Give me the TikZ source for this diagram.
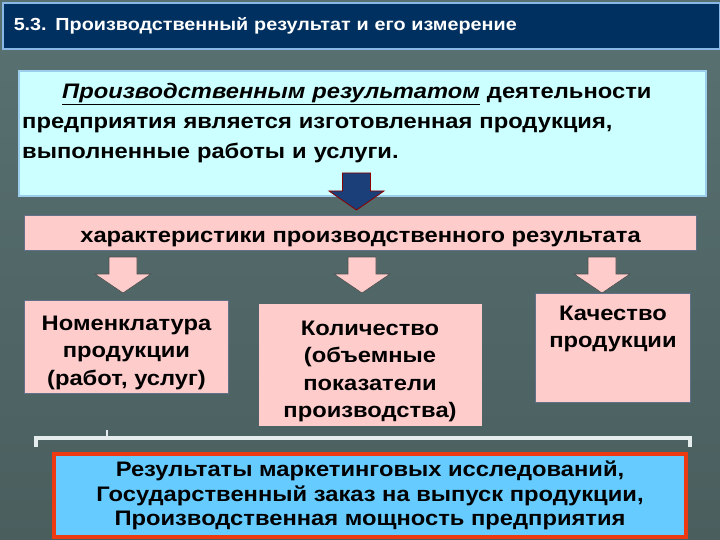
\documentclass[tikz,border=0pt]{standalone}
\usepackage{fontspec}
\setmainfont[FakeStretch=1.13]{Liberation Sans}
\usetikzlibrary{positioning}
\definecolor{titlebg}{HTML}{00305F}
\definecolor{titleedge}{HTML}{8AB8E6}
\definecolor{bgdark}{HTML}{587070}
\definecolor{bglight}{HTML}{C4F4F4}
\definecolor{bgbottom}{HTML}{4A5E5E}
\definecolor{defbg}{HTML}{CCFFFF}
\definecolor{defedge}{HTML}{9CCDEB}
\definecolor{pinkbg}{HTML}{FFCCCC}
\definecolor{boxedge}{HTML}{62708A}
\definecolor{srcbg}{HTML}{66CCFF}
\definecolor{srcedge}{HTML}{EE3A12}
\definecolor{darkarrow}{HTML}{1B3F78}
\definecolor{bracketcol}{HTML}{E4ECEC}
\tikzset{bodyfont/.style = {font=\bfseries\fontsize{21}{27.6}\selectfont}}
\tikzset{charbox/.style = {fill=pinkbg, draw=boxedge, line width=1pt, inner sep=0}}
\tikzset{chartext/.style = {bodyfont, align=center, inner sep=0}}
\tikzset{hollowdown/.pic = {\draw[pic actions] (-14,0) -- (14,0) -- (14,-17) -- (28,-17) -- (0,-36) -- (-28,-17) -- (-14,-17) -- cycle;}}

\begin{document}
\begin{tikzpicture}[x=1pt, y=1pt]
      \useasboundingbox (0,0) rectangle (720,-540);
      \shade [top color=bgdark, middle color=bglight, bottom color=bgbottom] (0,-40) rectangle (720,-540);
      \fill [bgdark] (0,0) rectangle (720,-40);

      \node [anchor=north west, fill=titlebg, draw=titleedge, line width=2.5pt, minimum width=717, minimum height=46,
             text width=695, inner xsep=10, align=left, text=white, font=\bfseries\fontsize{17.5}{21}\selectfont]
            (title) at (1.5,-2) {5.3. Производственный результат и его измерение};

      \node [anchor=north west, fill=defbg, draw=defedge, line width=2pt, minimum width=687, minimum height=125]
            (definition) at (18,-70) {};
      \node [anchor=north west, text width=679, inner sep=0, align=left, font=\bfseries\fontsize{21}{30}\selectfont]
            (deftext) at ([xshift=4pt, yshift=-13pt]definition.north west)
            {\hspace*{40pt}\underline{\textit{Производственным результатом}} деятельности\\
             предприятия является изготовленная продукция,\\
             выполненные работы и услуги.};

      \draw [fill=darkarrow, draw=red!55!black, line width=0.8pt] (342.5,-173) -- (370.5,-173) -- (370.5,-191) -- (384,-191)
            -- (356.5,-210) -- (329,-191) -- (342.5,-191) -- cycle;

      \node [charbox, chartext, anchor=north west, minimum width=672, minimum height=35, text height=22, text depth=3]
            (charbar) at (24,-215) {характеристики производственного результата};

      \node [charbox, anchor=north west, minimum width=204, minimum height=93] (nomen) at (24,-300) {};
      \node [chartext, below=15.5pt of nomen.north] (nomentext) {Номенклатура\\продукции\\(работ, услуг)};

      \node [charbox, draw=none, anchor=north west, minimum width=223, minimum height=122] (amount) at (258,-303) {};
      \node [chartext, below=17.5pt of amount.north] (amounttext) {Количество\\(объемные\\показатели\\производства)};

      \node [charbox, anchor=north west, minimum width=155, minimum height=109] (quality) at (535,-293) {};
      \node [chartext, below=12.5pt of quality.north] (qualitytext) {Качество\\продукции};

      \pic [fill=pinkbg, draw=black!70, line width=0.6pt] at (123,-257) {hollowdown};
      \pic [fill=pinkbg, draw=black!70, line width=0.6pt] at (362,-257) {hollowdown};
      \pic [fill=pinkbg, draw=black!70, line width=0.6pt] at (602,-257) {hollowdown};

      \draw [bracketcol, line width=4pt] (36,-447) -- (36,-438) -- (690,-438) -- (690,-447);
      \draw [bracketcol, line width=2pt] (107,-438) -- (107,-430);

      \node [anchor=north west, fill=srcbg, draw=srcedge, line width=4pt, minimum width=632, minimum height=83, align=center,
             font=\bfseries\fontsize{21}{24.5}\selectfont]
            (sources) at (52,-452) {Результаты маркетинговых исследований,\\
                                    Государственный заказ на выпуск продукции,\\
                                    Производственная мощность предприятия};
    \end{tikzpicture}
\end{document}
